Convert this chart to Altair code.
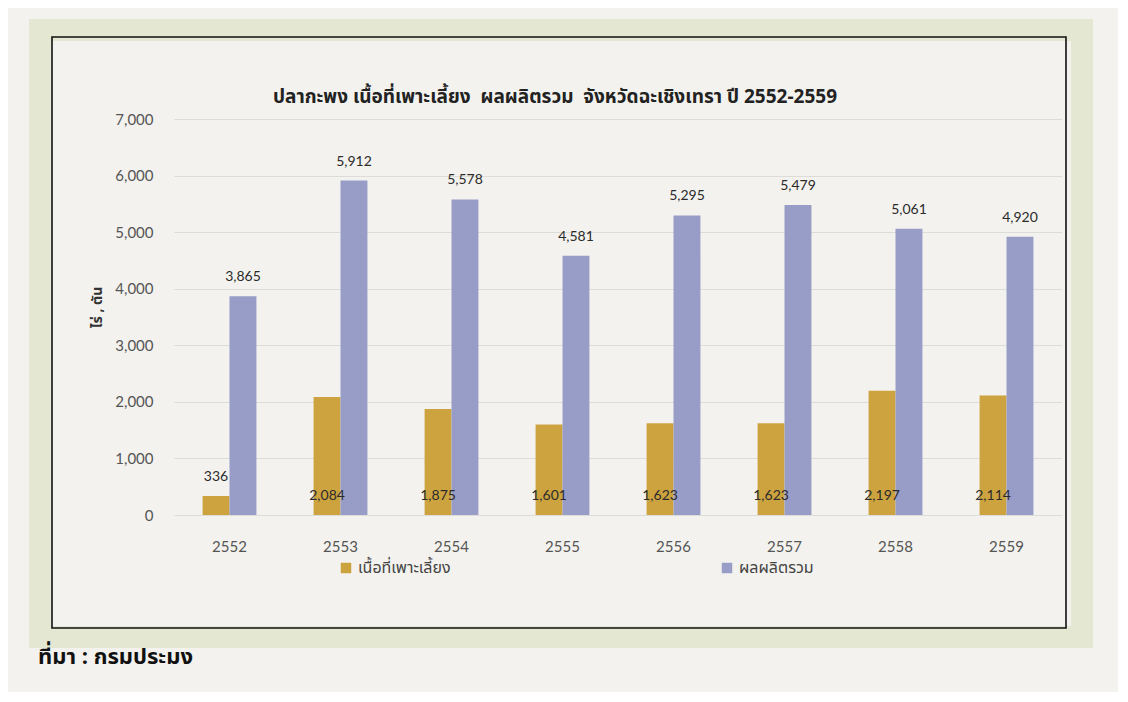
import altair as alt
import pandas as pd

years = ["2552", "2553", "2554", "2555", "2556", "2557", "2558", "2559"]
area = [336, 2084, 1875, 1601, 1623, 1623, 2197, 2114]
production = [3865, 5912, 5578, 4581, 5295, 5479, 5061, 4920]
series_names = ["เนื้อที่เพาะเลี้ยง", "ผลผลิตรวม"]
colors = ["#CDA33F", "#979DC6"]
y_ticks = [0, 1000, 2000, 3000, 4000, 5000, 6000, 7000]

title_text = "ปลากะพง เนื้อที่เพาะเลี้ยง\u00a0\u00a0ผลผลิตรวม\u00a0\u00a0จังหวัดฉะเชิงเทรา ปี 2552-2559"
y_title = "ไร่ , ตัน"
source_text = "ที่มา : กรมประมง"

rows = []
for i, yr in enumerate(years):
    rows.append({"year": yr, "series": series_names[0], "key": "a", "value": area[i]})
    rows.append({"year": yr, "series": series_names[1], "key": "p", "value": production[i]})
df = pd.DataFrame(rows)

FONT = "Noto Sans Thai, Tahoma, Lato, sans-serif"
W, H = 888, 396

x_enc = alt.X("year:N", sort=years,
              scale=alt.Scale(paddingInner=0.515, paddingOuter=0.2575),
              axis=alt.Axis(title=None, labelAngle=0, labelPadding=24, ticks=False,
                            domain=False, labelFontSize=15, labelColor="#555",
                            labelFont="Lato"))
xo_enc = alt.XOffset("series:N", sort=series_names,
                     scale=alt.Scale(domain=series_names, paddingInner=0, paddingOuter=0))
y_scale = alt.Scale(domain=[0, 7000])
y_axis = alt.Axis(values=y_ticks, labelExpr="format(datum.value, ',')", title=y_title,
                  ticks=False, domain=False, labelPadding=21, labelFontSize=15,
                  labelColor="#555", labelFont="Lato",
                  gridColor="#dcdcd8", gridWidth=1,
                  titleFont=FONT, titleFontSize=14, titleFontWeight="bold",
                  titleColor="#333", titleX=-77, titleY=188,
                  titleAngle=270, titleAlign="center", titleBaseline="middle")

# decorative page band & chart frame (stroke only, so axes stay visible)
one = alt.Data(values=[{"a": 1}])
page = alt.Chart(one).mark_rect(fill=None, stroke="#e4e8d2", strokeWidth=22).encode(
    x=alt.value(-134), x2=alt.value(908), y=alt.value(-89), y2=alt.value(518))
frame = alt.Chart(one).mark_rect(fill=None, stroke="#111", strokeWidth=1.6).encode(
    x=alt.value(-122), x2=alt.value(892), y=alt.value(-82), y2=alt.value(509))

bars = alt.Chart(df).mark_bar().encode(
    x=x_enc,
    xOffset=xo_enc,
    y=alt.Y("value:Q", scale=y_scale, axis=y_axis),
    color=alt.Color("series:N", sort=series_names,
                    scale=alt.Scale(domain=series_names, range=colors),
                    legend=alt.Legend(title=None, orient="none", legendX=164, legendY=441,
                                      direction="horizontal", columns=2,
                                      columnPadding=268, symbolType="square",
                                      symbolSize=110, symbolStrokeWidth=0,
                                      labelFont=FONT, labelFontSize=16,
                                      labelColor="#444", symbolOffset=0)),
)

labels = alt.Chart(df).transform_calculate(
    pos="datum.key == 'a' ? (datum.value < 600 ? datum.value : 0) : datum.value"
).mark_text(baseline="alphabetic", dy=-15, fontSize=14, font="Lato", color="#2b2b2b").encode(
    x=alt.X("year:N", sort=years),
    xOffset=alt.XOffset("series:N", sort=series_names),
    y=alt.Y("pos:Q", scale=y_scale, axis=y_axis),
    text=alt.Text("value:Q", format=","),
)

title = alt.Chart(one).mark_text(align="center", baseline="middle", fontSize=19,
                                 fontWeight="bold", font=FONT, color="#222").encode(
    x=alt.value(381), y=alt.value(-22), text=alt.value(title_text))

source = alt.Chart(one).mark_text(align="left", baseline="middle", fontSize=22,
                                  fontWeight="bold", font=FONT, color="#111").encode(
    x=alt.value(-136), y=alt.value(538), text=alt.value(source_text))

chart = alt.layer(page, frame, bars, labels, title, source).properties(
    width=W, height=H,
    autosize=alt.AutoSizeParams(type="none"),
    padding={"left": 166, "top": 111, "right": 56, "bottom": 177},
    background="#f3f2ee",
).configure_view(stroke=None)

chart.save("out.html", embed_options={"renderer": "svg", "actions": False})
